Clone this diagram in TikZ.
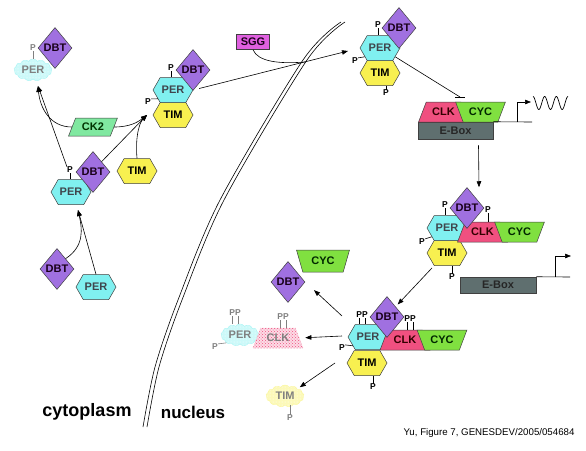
\documentclass[tikz,border=0pt]{standalone}
\usepackage{fontspec}
\setmainfont{Liberation Sans}
\setsansfont{Liberation Sans}
\usetikzlibrary{arrows.meta}
\usetikzlibrary{shapes.geometric, shapes.symbols, patterns}

\definecolor{percol}{HTML}{80F0F0}
\definecolor{timcol}{HTML}{F8F050}
\definecolor{dbtcol}{HTML}{A070E0}
\definecolor{clkcol}{HTML}{F05080}
\definecolor{cyccol}{HTML}{80E040}
\definecolor{ckcol}{HTML}{80E8A0}
\definecolor{sggcol}{HTML}{E060E0}
\definecolor{eboxcol}{HTML}{5F6F6F}

\tikzset{
  mol/.style={draw=black!75, line width=0.5pt, inner sep=0pt, font=\bfseries\fontsize{11}{12}\selectfont},
  hexa/.style={mol, signal, signal to=east and west, signal pointer angle=120, minimum width=40, minimum height=25},
  per/.style={hexa, fill=percol, text=black!80!cyan},
  tim/.style={hexa, fill=timcol, text=black},
  dbt/.style={mol, diamond, aspect=0.8, minimum width=34, minimum height=41, fill=dbtcol, text=black!80!violet},
  trap/.style={mol, trapezium, trapezium left angle=57, trapezium right angle=57, trapezium stretches=true, minimum width=50, minimum height=20},
  clk/.style={trap, fill=clkcol, text=black!80!red},
  cyc/.style={trap, shape border rotate=180, fill=cyccol, text=black!85!green},
  ebox/.style={mol, rectangle, fill=eboxcol, text=black!85, minimum width=75, minimum height=17},
  phos/.style={inner sep=0pt, font=\bfseries\fontsize{8.5}{9}\selectfont},
  fphos/.style={phos, text=black!50},
  tick/.style={line width=0.6pt},
  ftick/.style={line width=0.6pt, black!50},
  arr/.style={-{Triangle[length=6pt, width=4.5pt]}, line width=0.6pt},
  memb/.style={line width=0.6pt},
  percloud/.style={cloud, cloud puffs=13, cloud puff arc=110, aspect=2.2, minimum width=38, minimum height=22, inner sep=0pt, draw=percol!70, fill=percol!40, postaction={pattern=dots, pattern color=white}, text=black!50, font=\bfseries\fontsize{11}{12}\selectfont},
  timcloud/.style={percloud, draw=timcol!60, fill=timcol!40},
  clkdots/.style={trap, draw=clkcol!60, densely dotted, fill=clkcol!20, postaction={pattern=crosshatch dots, pattern color=clkcol}, text=black!50},
}

\begin{document}
\begin{tikzpicture}[x=1pt, y=-1pt]
\fill[white] (0,0) rectangle (586,450);
\useasboundingbox (0,0) rectangle (586,450);

\draw[memb] plot[smooth] coordinates {(341,22) (303,60) (220,200) (178,300) (155,367) (143,427)};
\draw[memb] plot[smooth] coordinates {(345,22) (307,60) (224,200) (182,300) (159,367) (147,427)};

\node[percloud] (perA) at (33,70) {PER};
\node[dbt] (dbtA) at (55,48) {DBT};
\node[fphos] (pA) at (33,48) {P};
\draw[ftick] (pA.south) -- (pA.south |- perA.north);

\node[mol, trapezium, trapezium left angle=60, trapezium right angle=120, trapezium stretches=true, minimum width=49, minimum height=18, fill=ckcol, text=black!80!green] (ck2) at (93,127) {CK2};

\node[tim] (timB) at (173,115) {TIM};
\node[per] (perB) at (173,90) {PER};
\node[dbt] (dbtB) at (193,70) {DBT};
\node[phos] (pB1) at (171,68) {P};
\node[phos] (pB2) at (148,102) {P};
\draw[tick] (pB1.south) -- (pB1.south |- perB.north);
\draw[tick] (pB2.north east) -- (perB.210);

\node[per] (perC) at (71,192) {PER};
\node[dbt] (dbtC) at (93,172) {DBT};
\node[phos] (pC) at (70,170) {P};
\draw[tick] (pC.south) -- (pC.south |- perC.north);

\node[tim] (timC) at (137,171) {TIM};
\node[dbt] (dbtD) at (57,269) {DBT};
\node[per] (perD) at (96,287) {PER};

\coordinate (tip1) at (38,86);
\coordinate (tip2) at (147,115);
\coordinate (tip3) at (78,210);
\draw[arr] (pC.north west) -- (tip1);
\draw[arr] (ck2.west) .. controls (50,127) and (40,108) .. (tip1);
\draw[arr] (ck2.east) .. controls (130,127) and (138,122) .. (tip2);
\draw[arr] (dbtC.north east) -- (tip2);
\draw[arr] (timC.north) .. controls (135,135) and (140,122) .. (tip2);
\draw[arr] (dbtD.north east) .. controls (85,246) and (82,228) .. (tip3);
\draw[arr] (perD.north) -- (tip3);

\node[mol, rectangle, fill=sggcol, minimum width=33, minimum height=15, text=black!80!violet] (sgg) at (253,42) {SGG};
\node[tim] (timE) at (380,73) {TIM};
\node[per] (perE) at (380,48) {PER};
\node[dbt] (dbtE) at (399,28) {DBT};
\node[phos] (pE1) at (378,25) {P};
\node[phos] (pE2) at (355,61) {P};
\node[phos] (pE3) at (386,93) {P};
\draw[tick] (pE1.south) -- (pE1.south |- perE.north);
\draw[tick] (pE2.north east) -- (perE.210);
\draw[tick] (pE3.north) -- (pE3.north |- timE.south);

\coordinate (tipE) at (348,51);
\coordinate (join) at (305,62);
\draw[arr, shorten <=6pt] (perB.east) -- (tipE);
\draw[line width=0.6pt] (sgg.south) .. controls (258,62) and (280,64) .. (join);

\node[ebox] (ebox1) at (455.5,130.5) {E-Box};
\node[clk] (clk1) at (443.5,112) {CLK};
\node[cyc] (cyc1) at (480.5,112) {CYC};
\coordinate (inh) at (460,97);
\draw[line width=0.6pt] (perE.-30) -- (inh);
\draw[line width=0.6pt] ([xshift=-5pt]inh) -- ([xshift=5pt]inh);
\coordinate (end1) at (532,122);
\coordinate (tss1) at (517,122);
\coordinate (tx1) at (531,102);
\draw[line width=0.6pt] (ebox1.north east) -- (end1);
\draw[arr] (tss1) |- (tx1);
\draw[line width=0.7pt] plot[domain=0:1080, samples=90, variable=\t] ({533+\t/1080*35}, {103-6.5*cos(\t)});

\node[tim] (timF) at (447,253) {TIM};
\node[per] (perF) at (447,228) {PER};
\node[clk] (clkF) at (482.5,232) {CLK};
\node[cyc] (cycF) at (519.5,232) {CYC};
\node[dbt] (dbtF) at (467,208) {DBT};
\node[phos] (pF1) at (445,205) {P};
\node[phos] (pF2) at (422,242) {P};
\node[phos] (pF3) at (488,210) {P};
\node[phos] (pF4) at (452,277) {P};
\draw[tick] (pF1.south) -- (pF1.south |- perF.north);
\draw[tick] (pF2.north east) -- (perF.210);
\draw[tick] (pF3.south) -- (pF3.south |- clkF.north);
\draw[tick] (pF4.north) -- (pF4.north |- timF.south);
\draw[arr] ([xshift=23pt,yshift=-6pt]ebox1.south) -- ([xshift=12pt]dbtF.north);

\node[ebox, minimum width=76, minimum height=16] (ebox2) at (498,285) {E-Box};
\coordinate (end2) at (570,277);
\coordinate (tss2) at (555,277);
\coordinate (tx2) at (571,256);
\draw[line width=0.6pt] (ebox2.north east) -- (end2);
\draw[arr] (tss2) |- (tx2);

\node[tim] (timG) at (367,363) {TIM};
\node[per] (perG) at (368,337) {PER};
\node[clk] (clkG) at (405,340) {CLK};
\node[cyc] (cycG) at (442,340) {CYC};
\node[dbt] (dbtG) at (387,317) {DBT};
\node[phos] (pG1) at (362,315) {PP};
\node[phos] (pG2) at (410,319) {PP};
\node[phos] (pG3) at (342,348) {P};
\node[phos] (pG4) at (373,387) {P};
\draw[tick] ([xshift=-2.8pt]pG1.south) -- ([xshift=-2.8pt]pG1.south |- perG.north);
\draw[tick] ([xshift=2.8pt]pG1.south) -- ([xshift=2.8pt]pG1.south |- perG.north);
\draw[tick] ([xshift=-2.8pt]pG2.south) -- ([xshift=-2.8pt]pG2.south |- clkG.north);
\draw[tick] ([xshift=2.8pt]pG2.south) -- ([xshift=2.8pt]pG2.south |- clkG.north);
\draw[tick] (pG3.north east) -- (perG.210);
\draw[tick] (pG4.north) -- (pG4.north |- timG.south);
\draw[arr, shorten <=3pt, shorten >=3pt] (timF.south west) -- (dbtG.north east);

\node[dbt] (dbtH) at (288,282) {DBT};
\node[cyc, trapezium left angle=65, trapezium right angle=65, minimum width=53, minimum height=22] (cycH) at (323,261) {CYC};
\node[percloud] (perI) at (240,335) {PER};
\node[clkdots] (clkI) at (278,338) {CLK};
\node[timcloud] (timI) at (285,396) {TIM};
\node[fphos] (pI1) at (235,313) {PP};
\node[fphos] (pI2) at (283,317) {PP};
\node[fphos] (pI3) at (215,347) {P};
\node[fphos] (pI4) at (290,418) {P};
\draw[ftick] ([xshift=-2.8pt]pI1.south) -- ([xshift=-2.8pt]pI1.south |- perI.north);
\draw[ftick] ([xshift=2.8pt]pI1.south) -- ([xshift=2.8pt]pI1.south |- perI.north);
\draw[ftick] ([xshift=-2.8pt]pI2.south) -- ([xshift=-2.8pt]pI2.south |- clkI.north);
\draw[ftick] ([xshift=2.8pt]pI2.south) -- ([xshift=2.8pt]pI2.south |- clkI.north);
\draw[ftick] (pI3.north east) -- (perI.210);
\draw[ftick] (pI4.north) -- (pI4.north |- timI.south);

\coordinate (g1) at (342,316);
\coordinate (g2) at (342,336);
\coordinate (g3) at (335,363);
\draw[arr, shorten >=12pt] (g1) -- (dbtH.east);
\draw[arr, shorten >=6pt] (g2) -- (clkI.east);
\draw[arr, shorten >=3pt] (g3) -- (timI.30);

\node[font=\bfseries\fontsize{18}{19}\selectfont] (cyto) at (87,412) {cytoplasm};
\node[font=\bfseries\fontsize{17}{18}\selectfont] (nucl) at (193,412) {nucleus};
\node[font=\fontsize{9.7}{10}\selectfont] (cap) at (489,433) {Yu, Figure 7, GENESDEV/2005/054684};
\end{tikzpicture}
\end{document}
